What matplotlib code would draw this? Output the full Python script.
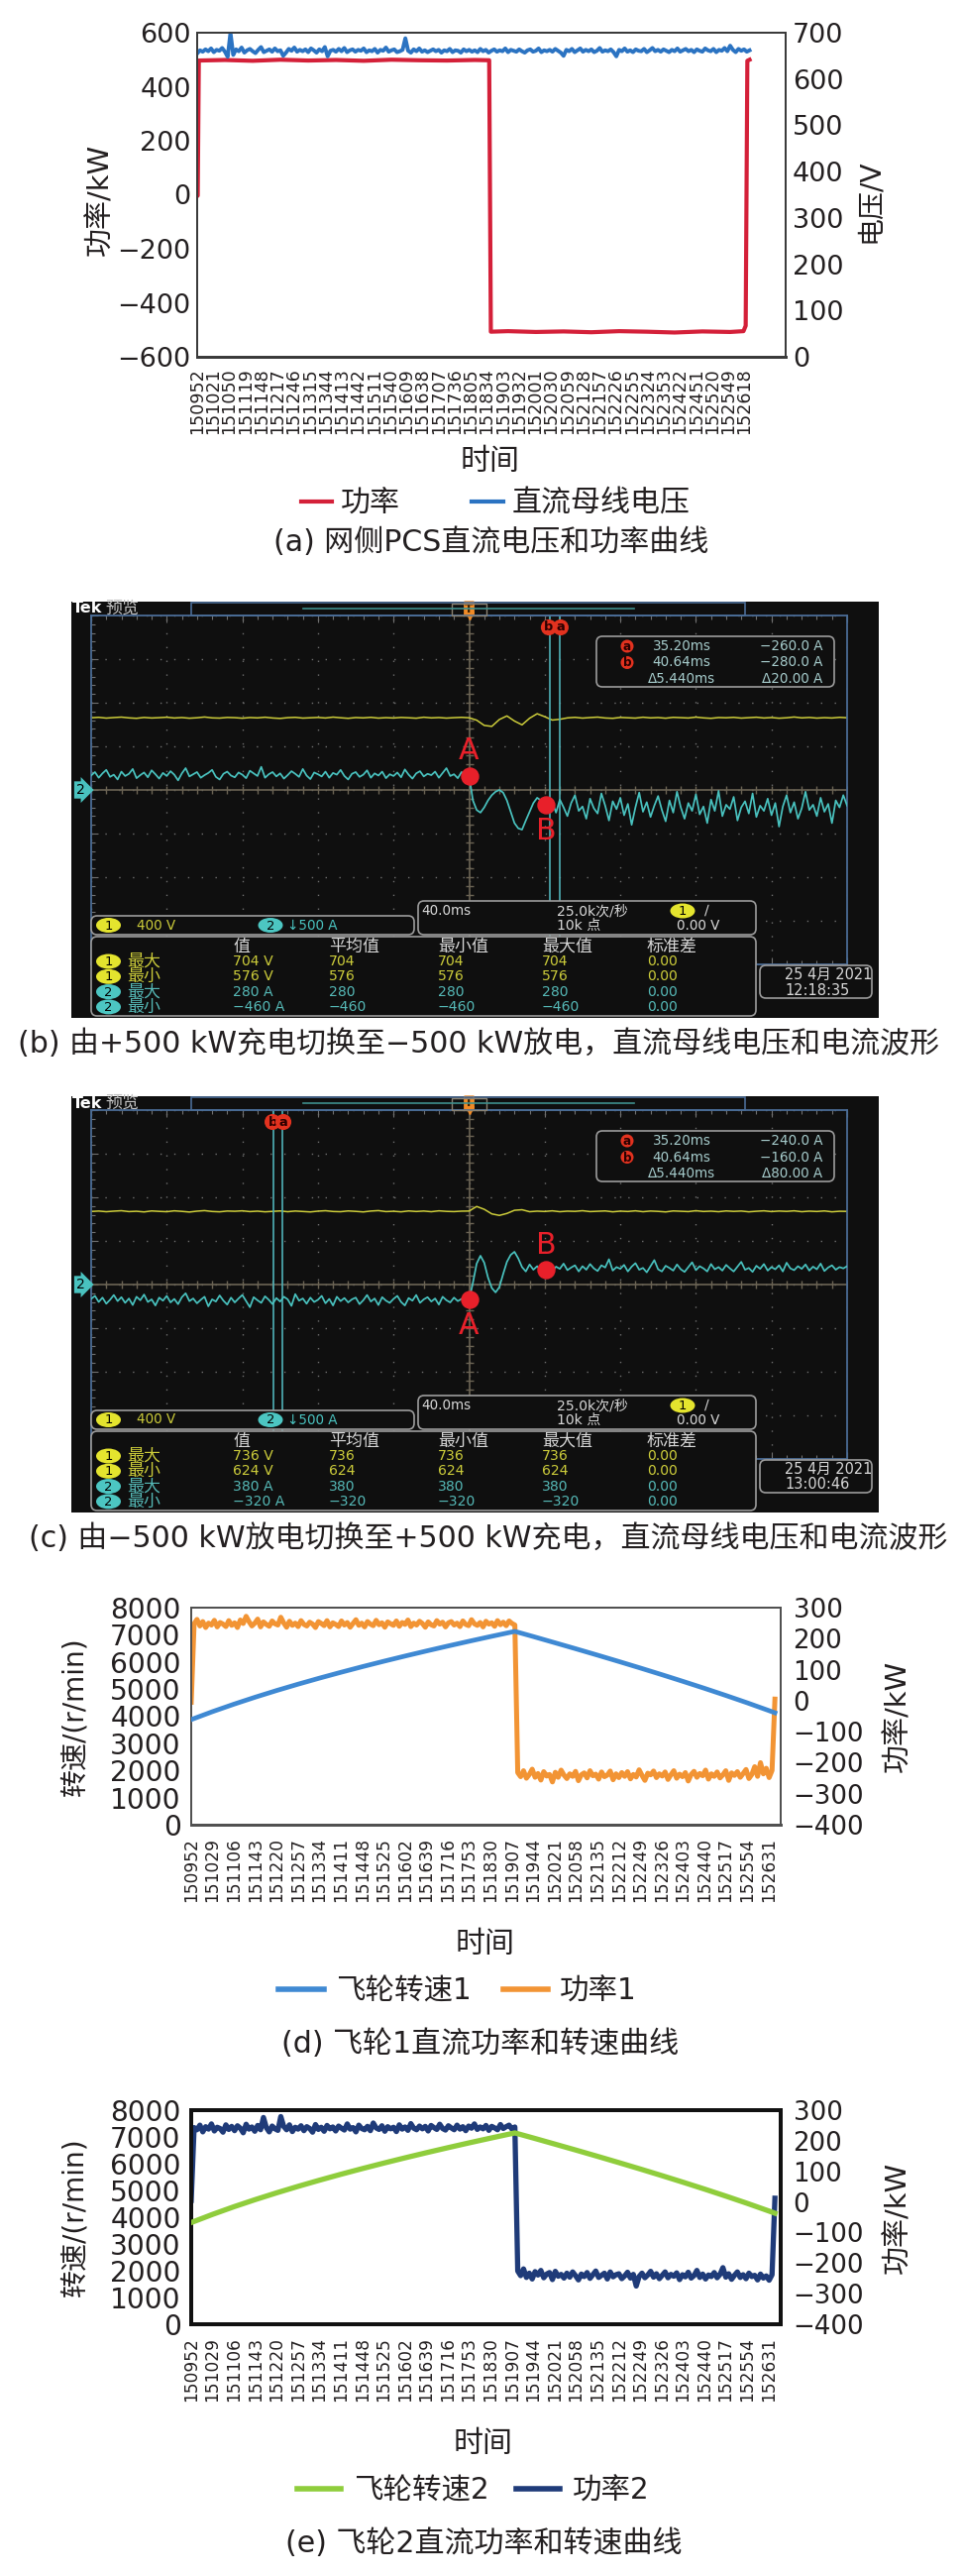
import numpy as np
import matplotlib.pyplot as plt
import matplotlib as mpl
from matplotlib.patches import FancyBboxPatch, Ellipse, Rectangle
from matplotlib.lines import Line2D
from matplotlib.ticker import MultipleLocator

mpl.rcParams['font.family'] = ['DejaVu Sans', 'Noto Sans CJK SC']
mpl.rcParams['axes.unicode_minus'] = True

W, H = 972, 2599

# ---------------- data: (a) grid-side PCS ----------------
pcs_labels = ['150952', '151021', '151050', '151119', '151148', '151217', '151246',
              '151315', '151344', '151413', '151442', '151511', '151540', '151609',
              '151638', '151707', '151736', '151805', '151834', '151903', '151932',
              '152001', '152030', '152059', '152128', '152157', '152226', '152255',
              '152324', '152353', '152422', '152451', '152520', '152549', '152618']
pcs_label_step = 29          # s between labels
pcs_t = [0, 1, 3, 50, 100, 150, 200, 250, 300, 350, 400, 450, 500, 526, 529, 560,
         610, 660, 710, 760, 810, 860, 910, 960, 984, 988, 991, 995]
pcs_power = [-5, -3, 497, 499, 496, 500, 497, 499, 496, 500, 498, 497, 499, 498,
             -507, -505, -508, -506, -509, -505, -507, -510, -506, -508, -505,
             -485, 496, 500]
pcs_volt_dt = 5              # s per sample
pcs_volt = [655, 662, 659, 664, 660, 666, 658, 663, 661, 667,
            659, 648, 700, 652, 664, 660, 668, 657, 662, 665,
            660, 656, 663, 669, 658, 661, 664, 659, 666, 660,
            662, 650, 657, 665, 661, 668, 659, 663, 660, 664,
            658, 666, 662, 657, 664, 660, 669, 649, 661, 663,
            659, 665, 660, 667, 658, 662, 664, 659, 663, 661,
            666, 658, 662, 660, 665, 657, 663, 661, 668, 659,
            662, 664, 658, 660, 663, 688, 661, 657, 664, 660,
            666, 659, 662, 658, 661, 664, 660, 663, 657, 662,
            660, 665, 658, 662, 661, 657, 664, 660, 663, 659,
            662, 658, 665, 660, 663, 657, 661, 664, 659, 662,
            660, 666, 658, 663, 661, 659, 664, 660, 657, 662,
            664, 659, 661, 666, 658, 662, 660, 663, 659, 665,
            661, 657, 650, 663, 660, 665, 658, 662, 666, 659,
            663, 660, 664, 658, 661, 667, 659, 662, 660, 664,
            658, 649, 663, 660, 666, 659, 662, 658, 664, 661,
            660, 665, 658, 662, 667, 660, 663, 659, 664, 661,
            658, 663, 660, 666, 659, 662, 665, 660, 663, 658,
            664, 661, 659, 666, 662, 660, 665, 658, 663, 661,
            667, 660, 672, 663, 658, 665, 661, 664, 659, 662]

# ---------------- data: (b)/(c) oscilloscope ----------------
ch1_dt = 4    # ms per sample, starts at -200 ms
ch2_dt = 2
b_ch1 = [662, 666, 659, 664, 668, 661, 657, 665, 660, 663,
         667, 660, 664, 658, 662, 669, 661, 659, 665, 663,
         658, 664, 661, 667, 660, 656, 663, 666, 659, 662,
         665, 660, 668, 662, 657, 664, 661, 666, 659, 663,
         660, 665, 662, 658, 667, 661, 664, 659, 663, 666,
         662, 640, 592, 583, 646, 679, 632, 597, 658, 699,
         672, 641, 648, 661, 666, 659, 664, 668, 660, 657,
         665, 662, 659, 667, 661, 664, 658, 666, 663, 660,
         668, 661, 657, 664, 662, 666, 659, 663, 667, 660,
         664, 658, 662, 669, 661, 665, 659, 663, 660, 666,
         662]
b_ch2 = [165, 205, 140, 190, 230, 150, 175, 120, 210, 160,
         185, 240, 135, 170, 200, 145, 225, 180, 130, 195,
         160, 215, 175, 110, 190, 250, 155, 180, 205, 140,
         170, 195, 230, 150, 120, 185, 210, 165, 145, 200,
         175, 135, 220, 190, 160, 265, 140, 180, 205, 155,
         190, 130, 170, 215, 185, 150, 240, 165, 125, 200,
         180, 155, 210, 140, 195, 175, 230, 160, 120, 185,
         205, 150, 175, 225, 140, 190, 165, 210, 135, 180,
         160, 200, 145, 235, 175, 130, 190, 215, 155, 185,
         170, 210, 140, 195, 250, 160, 180, 135, 205, 175,
         165, -120, -230, -260, -200, -120, -60, -20, 0, -30,
         -120, -250, -380, -440, -455, -350, -250, -150, -90, -120,
         -160, -230, -140, -260, -110, -200, -300, -150, -60, -240,
         -190, -330, -100, -210, -270, -40, -180, -350, -130, -220,
         -90, -290, -160, -400, -200, -30, -250, -140, -310, -180,
         -70, -230, -360, -120, -260, -20, -200, -330, -150, -240,
         -50, -280, -190, -380, -110, -240, -10, -300, -170, -220,
         -80, -350, -200, -130, -270, -40, -310, -180, -240, -100,
         -290, -150, -420, -190, -60, -260, -140, -330, -210, -20,
         -230, -170, -300, -90, -250, -160, -380, -120, -200, -60,
         -180]
c_ch1 = [670, 674, 668, 673, 677, 669, 672, 666, 675, 671,
         668, 676, 671, 665, 673, 678, 670, 667, 674, 672,
         676, 669, 673, 667, 671, 675, 668, 674, 670, 666,
         673, 677, 670, 668, 675, 671, 666, 674, 678, 669,
         672, 667, 675, 670, 674, 668, 676, 671, 669, 673,
         674, 716, 690, 648, 634, 652, 681, 686, 668, 673,
         670, 676, 668, 673, 671, 677, 669, 672, 675, 667,
         673, 670, 676, 668, 674, 671, 666, 675, 672, 669,
         677, 670, 673, 668, 675, 671, 674, 667, 672, 676,
         669, 674, 671, 676, 668, 673, 670, 675, 667, 672,
         671]
c_ch2 = [-165, -130, -200, -150, -220, -175, -120, -190, -145, -210,
         -160, -235, -140, -180, -115, -200, -170, -240, -150, -185,
         -130, -205, -165, -225, -145, -100, -190, -160, -215, -175,
         -140, -250, -170, -195, -125, -185, -230, -150, -205, -160,
         -120, -190, -260, -145, -180, -210, -135, -175, -225, -155,
         -195, -140, -170, -245, -110, -185, -160, -220, -150, -200,
         -175, -130, -215, -165, -240, -140, -190, -155, -205, -170,
         -150, -225, -180, -120, -195, -160, -235, -145, -185, -210,
         -165, -130, -200, -240, -155, -185, -120, -210, -170, -145,
         -195, -160, -230, -140, -180, -205, -150, -190, -165, -175,
         -180, 20, 240, 330, 250, 80, -40, -90, -30, 120,
         260, 340, 375, 300, 200, 150, 230, 170, 210, 160,
         175, 230, 150, 205, 180, 240, 165, 195, 220, 150,
         210, 170, 235, 185, 155, 220, 195, 290, 160, 200,
         180, 225, 150, 205, 245, 170, 190, 140, 210, 280,
         175, 150, 215, 190, 160, 230, 175, 145, 200, 255,
         165, 210, 185, 150, 235, 175, 200, 160, 225, 185,
         150, 205, 260, 170, 190, 145, 215, 180, 235, 160,
         200, 175, 220, 150, 250, 185, 165, 210, 180, 230,
         160, 205, 175, 240, 155, 195, 220, 170, 200, 185,
         210]
b_cursors = [42.7, 47.9]           # ms (b, a)
c_cursors = [-103.5, -98.8]
b_pt_a, b_pt_b = (0.0, 160), (40.6, -175)
c_pt_a, c_pt_b = (0.0, -175), (40.8, 170)
b_readout = [('a', '35.20ms', '−260.0 A'), ('b', '40.64ms', '−280.0 A'), ('', 'Δ5.440ms', 'Δ20.00 A')]
c_readout = [('a', '35.20ms', '−240.0 A'), ('b', '40.64ms', '−160.0 A'), ('', 'Δ5.440ms', 'Δ80.00 A')]
b_meas = [('1', '最大', '704 V', '704', '704', '704', '0.00'),
          ('1', '最小', '576 V', '576', '576', '576', '0.00'),
          ('2', '最大', '280 A', '280', '280', '280', '0.00'),
          ('2', '最小', '−460 A', '−460', '−460', '−460', '0.00')]
c_meas = [('1', '最大', '736 V', '736', '736', '736', '0.00'),
          ('1', '最小', '624 V', '624', '624', '624', '0.00'),
          ('2', '最大', '380 A', '380', '380', '380', '0.00'),
          ('2', '最小', '−320 A', '−320', '−320', '−320', '0.00')]
meas_header = ['值', '平均值', '最小值', '最大值', '标准差']
b_date = ('25 4月 2021', '12:18:35')
c_date = ('25 4月 2021', '13:00:46')

# ---------------- data: (d)/(e) flywheels ----------------
fw_labels = ['150952', '151029', '151106', '151143', '151220', '151257', '151334',
             '151411', '151448', '151525', '151602', '151639', '151716', '151753',
             '151830', '151907', '151944', '152021', '152058', '152135', '152212',
             '152249', '152326', '152403', '152440', '152517', '152554', '152631']
fw_label_step = 37
fw_speed_t = [0, 37, 74, 111, 148, 185, 222, 259, 296, 333, 370, 407, 444, 481, 518,
              555, 560, 592, 629, 666, 703, 740, 777, 814, 851, 888, 925, 962, 999, 1010]
fw1_speed = [3875, 4169, 4443, 4702, 4947, 5180, 5403, 5617, 5824, 6023, 6216, 6403,
             6585, 6762, 6935, 7103, 7125, 6934, 6708, 6481, 6250, 6015, 5776, 5532,
             5282, 5027, 4764, 4493, 4211, 4125]
fw2_speed = [3800, 4106, 4392, 4659, 4912, 5153, 5383, 5604, 5816, 6021, 6219, 6411,
             6597, 6779, 6955, 7127, 7150, 6959, 6733, 6506, 6275, 6040, 5801, 5557,
             5307, 5052, 4789, 4518, 4236, 4150]
fw_power_dt = 5
fw1_power = [-5, 248, 262, 241, 255, 236, 250, 244, 259, 238,
             252, 247, 239, 258, 243, 251, 236, 260, 249, 272,
             255, 241, 250, 263, 238, 254, 246, 240, 257, 248,
             244, 269, 251, 237, 256, 243, 250, 239, 258, 246,
             241, 253, 247, 236, 255, 249, 242, 258, 238, 251,
             246, 239, 257, 244, 252, 237, 249, 261, 243, 250,
             238, 255, 247, 242, 259, 245, 251, 237, 254, 248,
             243, 257, 240, 252, 246, 260, 239, 250, 244, 256,
             249, 237, 254, 245, 241, 258, 247, 253, 238, 251,
             255, 244, 250, 239, 257, 246, 242, 261, 248, 243,
             252, 238, 256, 247, 251, 240, 258, 245, 253, 242,
             257, 249, 244, -232, -245, -226, -250, -238, -221, -247,
             -235, -256, -229, -243, -238, -262, -231, -247, -224, -240,
             -251, -236, -244, -228, -258, -239, -233, -249, -226, -242,
             -237, -253, -230, -245, -240, -227, -255, -236, -248, -232,
             -244, -229, -252, -238, -246, -223, -241, -257, -234, -239,
             -227, -248, -236, -243, -230, -254, -239, -226, -250, -237,
             -245, -232, -259, -238, -228, -247, -235, -242, -224, -253,
             -236, -244, -230, -249, -239, -226, -257, -233, -241, -229,
             -247, -235, -222, -251, -238, -213, -244, -200, -236, -218,
             -248, -225, 5]
fw2_power = [5, 243, 236, 251, 229, 246, 238, 255, 232, 244,
             240, 228, 252, 237, 247, 233, 249, 241, 226, 254,
             238, 245, 231, 250, 236, 276, 243, 229, 248, 239,
             234, 279, 247, 236, 252, 230, 244, 238, 249, 233,
             246, 240, 228, 253, 237, 244, 231, 250, 239, 245,
             232, 248, 241, 235, 255, 238, 243, 229, 251, 240,
             236, 247, 233, 258, 242, 237, 249, 231, 246, 239,
             244, 230, 252, 238, 245, 234, 256, 241, 236, 248,
             239, 247, 232, 250, 243, 237, 254, 240, 235, 249,
             242, 236, 251, 238, 246, 233, 248, 241, 255, 237,
             245, 239, 250, 234, 247, 242, 236, 253, 240, 246,
             251, 238, 245, -226, -241, -219, -247, -233, -252, -228,
             -239, -224, -248, -236, -231, -254, -227, -243, -237, -249,
             -233, -246, -229, -241, -255, -236, -244, -231, -250, -238,
             -226, -247, -240, -233, -252, -229, -245, -238, -235, -251,
             -242, -230, -249, -237, -275, -244, -233, -248, -239, -227,
             -246, -235, -251, -240, -229, -248, -237, -243, -232, -254,
             -238, -245, -230, -249, -241, -224, -247, -236, -252, -239,
             -244, -231, -248, -237, -215, -246, -235, -253, -240, -229,
             -247, -238, -251, -233, -244, -240, -255, -236, -249, -242,
             -256, -238, 12]

# ---------------- colours ----------------
RED = '#d42039'
BLUE_A = '#2b73c2'
BLUE_D = '#3f89d3'
ORANGE = '#f29434'
GREEN = '#8fcd3c'
NAVY = '#1f3b79'
TXT = '#231f20'
SCR = '#0f0f0f'
YEL = '#cccc3a'
CYAN = '#49c2bf'
MARK = '#e8202a'


def fs(px):
    return px * 0.72


fig = plt.figure(figsize=(W / 100, H / 100), dpi=100)
fig.patch.set_facecolor('white')


def px_axes(l, t, r, b):
    return fig.add_axes([l / W, 1 - b / H, (r - l) / W, (b - t) / H])


def ftext(x, y, s, **kw):
    kw.setdefault('ha', 'center')
    kw.setdefault('va', 'center')
    kw.setdefault('color', TXT)
    fig.text(x / W, 1 - y / H, s, **kw)


def frame(ax, ax2, color, lw, blw):
    for a in (ax, ax2):
        for s in a.spines.values():
            s.set_color(color)
            s.set_linewidth(lw)
        a.spines['bottom'].set_linewidth(blw)


# ================= (a) =================
ax = px_axes(199, 33, 793, 360)
ax.plot(pcs_t, pcs_power, color=RED, lw=3)
ax.set_xlim(0, 1060)
ax.set_ylim(-600, 600)
ax.set_yticks(range(-600, 601, 200))
ax.set_xticks(np.arange(len(pcs_labels)) * pcs_label_step)
ax.set_xticklabels(pcs_labels, rotation=90, fontsize=fs(17.5), color=TXT)
ax.tick_params(axis='y', labelsize=fs(27), length=0, pad=4.5, labelcolor=TXT)
ax.tick_params(axis='x', length=0, pad=8)
ax2 = ax.twinx()
ax2.plot(np.arange(len(pcs_volt)) * pcs_volt_dt, pcs_volt, color=BLUE_A, lw=2.8)
ax2.set_ylim(0, 700)
ax2.set_yticks(range(0, 701, 100))
ax2.tick_params(axis='y', labelsize=fs(27), length=0, pad=5, labelcolor=TXT)
frame(ax, ax2, '#3a3a3a', 1.3, 2.0)
ftext(101, 201, '功率/kW', rotation=90, fontsize=fs(29))
ftext(878, 203, '电压/V', rotation=90, fontsize=fs(28))
ftext(495, 465, '时间', fontsize=fs(30))
fig.legend([Line2D([], [], color=RED, lw=3), Line2D([], [], color=BLUE_A, lw=3)],
           ['功率', '直流母线电压'], loc='center', bbox_to_anchor=(500 / W, 1 - 508 / H),
           ncol=2, frameon=False, fontsize=fs(30), handlelength=1.05,
           handletextpad=0.3, columnspacing=2.4, labelcolor=TXT)
ftext(496, 547, '(a) 网侧PCS直流电压和功率曲线', fontsize=fs(30))


# ================= (b) / (c) oscilloscope =================
def pill(ov, x, y, s, color):
    ov.add_patch(Ellipse((x, y), 25, 15, fc=color, ec='none'))
    ov.text(x, y + 0.5, s, ha='center', va='center', fontsize=fs(13), color='black')


def rbox(ov, x0, y0, x1, y1):
    ov.add_patch(FancyBboxPatch((x0, y0), x1 - x0, y1 - y0,
                                boxstyle='round,pad=0,rounding_size=6',
                                fc=SCR, ec='#9c9c9c', lw=1.2))


def draw_scope(top, ch1, ch2, cursors, pt_a, pt_b, a_above, readout, meas, date):
    bg = px_axes(72, top, 887, top + 420)
    bg.set_facecolor(SCR)
    bg.set_xticks([])
    bg.set_yticks([])
    for s in bg.spines.values():
        s.set_visible(False)

    g = px_axes(92, top + 14, 855, top + 366)
    g.set_facecolor('none')
    g.set_xlim(-200, 200)
    g.set_ylim(-1600, 1600)          # 400 V/div
    g.set_xticks(np.arange(-200, 201, 40))
    g.set_yticks(np.arange(-1600, 1601, 400))
    g.xaxis.set_minor_locator(MultipleLocator(8))
    g.yaxis.set_minor_locator(MultipleLocator(80))
    g.tick_params(which='both', direction='in', top=True, right=True,
                  labelbottom=False, labelleft=False, color='#707070')
    g.tick_params(which='major', length=5, width=0.8)
    g.tick_params(which='minor', length=3, width=0.8)
    g.grid(True, color='#6e6e6e', lw=1.0, ls=(0, (1, 9)))
    for s in g.spines.values():
        s.set_color('#4a6c96')
        s.set_linewidth(1.3)
    g.axhline(0, color='#6b6454', lw=1.2)
    g.axvline(0, color='#6b6454', lw=1.2)
    g.plot(np.arange(-200, 201, 8), np.zeros(51), ls='none', marker='|',
           ms=6, color='#6b6454', mew=1)
    g.plot(np.zeros(41), np.arange(-1600, 1601, 80), ls='none', marker='_',
           ms=6, color='#6b6454', mew=1)
    g.plot(np.arange(len(ch1)) * ch1_dt - 200, ch1, color=YEL, lw=1.1)

    g2 = g.twinx()
    g2.set_ylim(-2000, 2000)         # 500 A/div
    g2.tick_params(right=False, labelright=False)
    for s in g2.spines.values():
        s.set_visible(False)
    for c in cursors:
        g2.axvline(c, color='#4fb0b6', lw=1.2)
    g2.plot(np.arange(len(ch2)) * ch2_dt - 200, ch2, color=CYAN, lw=1.25)
    for c, lab, dx in zip(cursors, ['b', 'a'], [-1, 1]):
        g2.annotate(lab, xy=(c, 1), xycoords=('data', 'axes fraction'),
                    xytext=(dx, -12), textcoords='offset pixels', ha='center',
                    va='center', fontsize=fs(13), color='#2a0000', fontweight='bold',
                    bbox=dict(boxstyle='circle,pad=0.12', fc='#e2321f', ec='none'))
    for (px, py), lab, up in [(pt_a, 'A', a_above), (pt_b, 'B', not a_above)]:
        g2.plot(px, py, 'o', color=MARK, ms=fs(17))
        g2.annotate(lab, xy=(px, py), xytext=(0, 25 if up else -26),
                    textcoords='offset pixels', ha='center', va='center',
                    fontsize=fs(30), color=MARK)
    g2.annotate('2', xy=(-200, 0), xytext=(-11, 0), textcoords='offset pixels',
                ha='center', va='center', fontsize=fs(14), color='black',
                bbox=dict(boxstyle='rarrow,pad=0.12', fc=CYAN, ec='none'))
    g.annotate('T', xy=(0, 1), xycoords=('data', 'axes fraction'), xytext=(0, 7),
               textcoords='offset pixels', ha='center', va='center',
               fontsize=fs(12), color='#3a2000', fontweight='bold',
               bbox=dict(boxstyle='round,pad=0.1', fc='#f08a26', ec='none'))
    g.plot([0], [1600], marker='v', ms=6, color='#f08a26', clip_on=False)

    ov = px_axes(72, top, 887, top + 420)
    ov.set_xlim(72, 887)
    ov.set_ylim(top + 420, top)
    ov.axis('off')
    # top bar
    ov.text(73, top + 7, 'Tek', color='white', fontsize=fs(16), fontweight='bold',
            ha='left', va='center')
    ov.text(106, top + 7, '预览', color='#c4c4c4', fontsize=fs(17), ha='left', va='center')
    ov.add_patch(Rectangle((193, top + 0.5), 559, 13.5, fc='none', ec='#4a6c96', lw=1.2))
    ov.plot([306, 640], [top + 7, top + 7], color='#3f8f8c', lw=1.2)
    ov.add_patch(Rectangle((456, top + 1.5), 35, 12, fc='none', ec='#8a8272', lw=1.0))
    # cursor readout
    rbox(ov, 602, top + 35, 842, top + 86)
    for i, (lab, tm, val) in enumerate(readout):
        y = top + 45 + i * 16.5
        if lab:
            ov.add_patch(Ellipse((633, y), 13, 13, fc='#e2321f', ec='none'))
            ov.text(633, y + 0.5, lab, ha='center', va='center', fontsize=fs(12),
                    color='#2a0000', fontweight='bold')
        ov.text(688, y, tm, ha='center', va='center', fontsize=fs(13.5), color='#a6cccc')
        ov.text(830, y, val, ha='right', va='center', fontsize=fs(13.5), color='#a6cccc')
    # channel scale box
    rbox(ov, 92, top + 317, 418, top + 336)
    pill(ov, 109.5, top + 326.5, '1', '#e4e42e')
    ov.text(138, top + 326.5, '400 V', ha='left', va='center', fontsize=fs(13.5), color=YEL)
    pill(ov, 273, top + 326.5, '2', '#4cc6c2')
    ov.text(290, top + 326.5, '↓500 A', ha='left', va='center', fontsize=fs(13.5), color=CYAN)
    # timebase box
    rbox(ov, 422, top + 302, 763, top + 336)
    ov.text(425, top + 312, '40.0ms', ha='left', va='center', fontsize=fs(13.5), color='#d8d8d8')
    ov.text(562, top + 312, '25.0k次/秒', ha='left', va='center', fontsize=fs(14), color='#d8d8d8')
    ov.text(562, top + 327, '10k 点', ha='left', va='center', fontsize=fs(14), color='#d8d8d8')
    pill(ov, 689, top + 312, '1', '#e4e42e')
    ov.text(713, top + 312, '∕', ha='center', va='center', fontsize=fs(14), color='#d8d8d8')
    ov.text(683, top + 327, '0.00 V', ha='left', va='center', fontsize=fs(13.5), color='#d8d8d8')
    # measurement table
    rbox(ov, 92, top + 338, 763, top + 418)
    cols = [235, 332, 442, 547, 653]
    for x, h in zip(cols, meas_header):
        ov.text(x, top + 348, h, ha='left', va='center', fontsize=fs(17), color='#d8d8d8')
    for i, row in enumerate(meas):
        y = top + 363 + i * 15.3
        col = YEL if row[0] == '1' else '#55b8b6'
        pill(ov, 109.5, y, row[0], '#e4e42e' if row[0] == '1' else '#4cc6c2')
        ov.text(128, y, row[1], ha='left', va='center', fontsize=fs(17), color=col)
        for x, v in zip(cols, row[2:]):
            ov.text(x, y, v, ha='left', va='center', fontsize=fs(14), color=col)
    # date box
    rbox(ov, 767, top + 367, 880, top + 400)
    ov.text(792, top + 376, date[0], ha='left', va='center', fontsize=fs(14.5), color='#d8d8d8')
    ov.text(792, top + 392, date[1], ha='left', va='center', fontsize=fs(14.5), color='#d8d8d8')


draw_scope(607, b_ch1, b_ch2, b_cursors, b_pt_a, b_pt_b, True, b_readout, b_meas, b_date)
ftext(483, 1053, '(b) 由+500 kW充电切换至−500 kW放电，直流母线电压和电流波形', fontsize=fs(30))
draw_scope(1106, c_ch1, c_ch2, c_cursors, c_pt_a, c_pt_b, False, c_readout, c_meas, c_date)
ftext(493, 1552, '(c) 由−500 kW放电切换至+500 kW充电，直流母线电压和电流波形', fontsize=fs(30))


# ================= (d) / (e) flywheels =================
def fw_chart(top, bottom, speed, power, c_speed, c_power, lw_s, lw_p,
             fcolor, flw, fblw, names, leg, caption, cap_x, time_x):
    ax = px_axes(193, top, 788, bottom)
    ax.plot(fw_speed_t, speed, color=c_speed, lw=lw_s, zorder=3)
    ax.set_xlim(0, 1020)
    ax.set_ylim(0, 8000)
    ax.set_yticks(range(0, 8001, 1000))
    ax.set_xticks(np.arange(len(fw_labels)) * fw_label_step)
    ax.set_xticklabels(fw_labels, rotation=90, fontsize=fs(17), color=TXT)
    ax.tick_params(axis='y', labelsize=fs(28), length=0, pad=7.5, labelcolor=TXT)
    ax.tick_params(axis='x', length=0, pad=9.5)
    ax2 = ax.twinx()
    ax2.plot(np.arange(len(power)) * fw_power_dt, power, color=c_power, lw=lw_p)
    ax2.set_ylim(-400, 300)
    ax2.set_yticks(range(-400, 301, 100))
    ax2.tick_params(axis='y', labelsize=fs(26), length=0, pad=9, labelcolor=TXT)
    ax.set_zorder(ax2.get_zorder() + 1)
    ax.patch.set_visible(False)
    frame(ax, ax2, fcolor, flw, fblw)
    mid = (top + bottom) / 2
    ftext(75, mid, '转速/(r/min)', rotation=90, fontsize=fs(28))
    ftext(906, mid, '功率/kW', rotation=90, fontsize=fs(29))
    ftext(time_x, bottom + 121, '时间', fontsize=fs(30))
    cx, hl, tp, cs = leg
    fig.legend([Line2D([], [], color=c_speed, lw=4), Line2D([], [], color=c_power, lw=4)],
               names, loc='center', bbox_to_anchor=(cx / W, 1 - (bottom + 168) / H),
               ncol=2, frameon=False, fontsize=fs(29.5), handlelength=hl,
               handletextpad=tp, columnspacing=cs, labelcolor=TXT)
    ftext(cap_x, bottom + 221, caption, fontsize=fs(30))


fw_chart(1622, 1841, fw1_speed, fw1_power, BLUE_D, ORANGE, 3.4, 3.6,
         '#505050', 1.3, 2.0, ['飞轮转速1', '功率1'], (462, 1.55, 0.4, 1.1),
         '(d) 飞轮1直流功率和转速曲线', 485, 490)
fw_chart(2129, 2345, fw2_speed, fw2_power, GREEN, NAVY, 3.8, 3.8,
         '#111111', 2.8, 2.8, ['飞轮转速2', '功率2'], (478, 1.5, 0.45, 0.9),
         '(e) 飞轮2直流功率和转速曲线', 488, 488)

fig.savefig('out.png', dpi=100, facecolor='white')
